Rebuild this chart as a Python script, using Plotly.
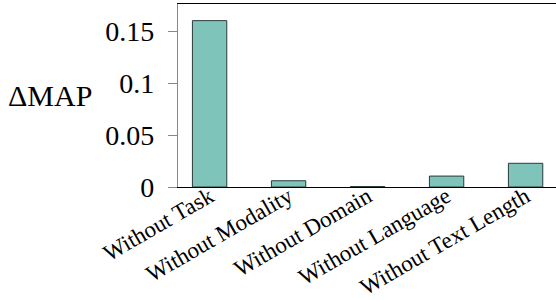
import plotly.graph_objects as go

categories = ["Without Task", "Without Modality", "Without Domain", "Without Language", "Without Text Length"]
delta_map = [0.160, 0.006, 0.0004, 0.0105, 0.0228]
y_tick_vals = [0, 0.05, 0.1, 0.15]
y_tick_text = ["0", "0.05", "0.1", "0.15"]

FONT = "Liberation Serif"

fig = go.Figure(go.Bar(
    x=categories,
    y=delta_map,
    width=0.435,
    marker=dict(color="#7fc4bb", line=dict(color="#2b3a3a", width=1)),
))

fig.update_layout(
    width=556, height=300,
    margin=dict(l=178, r=0, t=4, b=113),
    paper_bgcolor="white", plot_bgcolor="white",
    showlegend=False,
    font=dict(family=FONT, color="black"),
    xaxis=dict(
        type="category",
        range=[-0.4, 4.385],
        automargin=False,
        showline=True, linecolor="black", linewidth=1.3, mirror=True,
        showgrid=False, ticks="",
        tickangle=-30,
        tickfont=dict(family=FONT, size=23, color="black"),
        ticklabelstandoff=-14,
        zeroline=False,
    ),
    yaxis=dict(
        range=[0, 0.176],
        automargin=False,
        tickvals=y_tick_vals, ticktext=y_tick_text,
        showline=True, linecolor="#888888", linewidth=1.3,
        showgrid=False, zeroline=False,
        ticks="outside", ticklen=9, tickcolor="#888888", tickwidth=1,
        tickfont=dict(family=FONT, size=28, color="black"),
        ticklabelstandoff=8,
    ),
    annotations=[dict(
        text="ΔMAP", xref="paper", yref="paper",
        x=-0.456, y=0.5, xanchor="left", yanchor="middle",
        showarrow=False, font=dict(family=FONT, size=30, color="black"),
    )],
)

fig.write_html("out.html", config={"displayModeBar": False},
               post_script="document.body.style.margin='0';document.body.style.overflow='hidden';")
